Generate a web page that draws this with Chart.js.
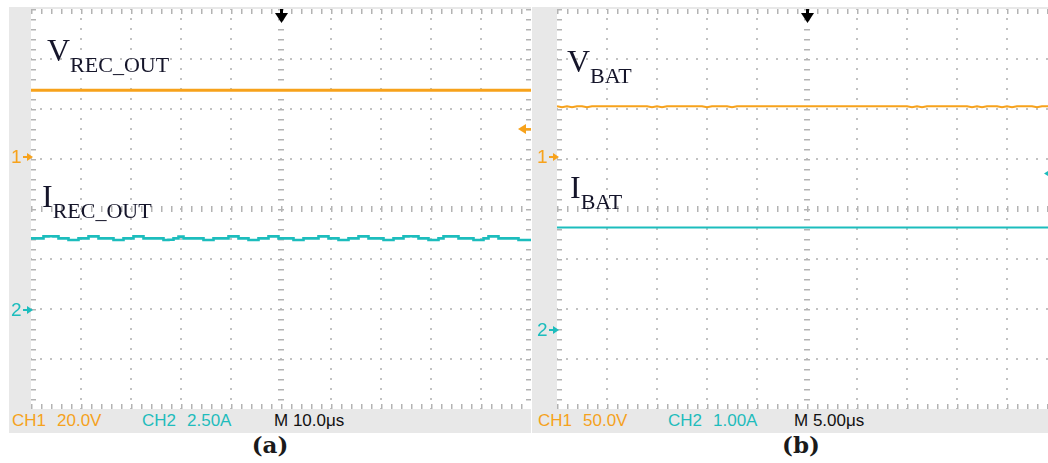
<!DOCTYPE html>
<html><head><meta charset="utf-8">
<script src="https://cdn.jsdelivr.net/npm/chart.js@4.4.1/dist/chart.umd.min.js"></script>
<style>
html,body{margin:0;padding:0;background:#fff;}
body{width:1048px;height:463px;position:relative;overflow:hidden;font-family:"Liberation Sans",Arial,sans-serif;}
.strip{position:absolute;background:#e8e8e8;}
canvas{position:absolute;background:#fff;}
.lbl{position:absolute;font-family:"Liberation Serif","Times New Roman",serif;font-size:32px;line-height:32px;color:#15152a;white-space:nowrap;}
.lbl sub{font-size:22px;line-height:0;vertical-align:-11px;}
.info{position:absolute;top:411px;font-size:17px;line-height:20px;white-space:nowrap;}
.cap{position:absolute;top:431px;width:100px;text-align:center;font-family:"DejaVu Serif",serif;font-weight:bold;font-size:23px;line-height:28px;color:#1a1a1a;}
.gnd{position:absolute;display:flex;align-items:center;font-size:19px;line-height:20px;height:20px;}
.gnd i{display:inline-block;width:4px;height:2px;background:currentColor;margin-left:1px;}
.gnd b{display:inline-block;width:0;height:0;border-left:6px solid currentColor;border-top:4px solid transparent;border-bottom:4px solid transparent;}
</style></head>
<body>
<div class="strip" style="left:9px;top:7px;width:522px;height:426px;"></div>
<div class="strip" style="left:532px;top:7px;width:520px;height:426px;"></div>
<canvas id="ca" width="500" height="400" style="left:31px;top:9px;width:500px;height:400px;"></canvas>
<canvas id="cb" width="500" height="400" style="left:557px;top:9px;width:500px;height:400px;"></canvas>

<div class="lbl" style="left:47px;top:34px;">V<sub>REC_OUT</sub></div>
<div class="lbl" style="left:42px;top:180px;">I<sub>REC_OUT</sub></div>
<div class="lbl" style="left:567px;top:45px;">V<sub>BAT</sub></div>
<div class="lbl" style="left:570px;top:171px;">I<sub>BAT</sub></div>

<div class="info" style="left:12px;color:#f5a21c;">CH1</div>
<div class="info" style="left:57px;color:#f5a21c;">20.0V</div>
<div class="info" style="left:142px;color:#1fbcbc;">CH2</div>
<div class="info" style="left:187px;color:#1fbcbc;">2.50A</div>
<div class="info" style="left:274px;color:#111;">M 10.0μs</div>
<div class="info" style="left:538px;color:#f5a21c;">CH1</div>
<div class="info" style="left:583px;color:#f5a21c;">50.0V</div>
<div class="info" style="left:668px;color:#1fbcbc;">CH2</div>
<div class="info" style="left:713px;color:#1fbcbc;">1.00A</div>
<div class="info" style="left:794px;color:#111;">M 5.00μs</div>

<div class="cap" style="left:220px;">(a)</div>
<div class="cap" style="left:751px;">(b)</div>

<script>
// ---------------- DATA ----------------
// Panel (a): rectifier output, time in microseconds
const timeA = [0,1,2,3,4,5,6,7,8,9,10,11,12,13,14,15,16,17,18,19,20,21,22,23,24,25,26,27,28,29,30,31,32,33,34,35,36,37,38,39,40,41,42,43,44,45,46,47,48,49,50,51,52,53,54,55,56,57,58,59,60,61,62,63,64,65,66,67,68,69,70,71,72,73,74,75,76,77,78,79,80,81,82,83,84,85,86,87,88,89,90,91,92,93,94,95,96,97,98,99,100];
const iRecOut = [3.58,3.58,3.58,3.68,3.69,3.68,3.58,3.58,3.50,3.50,3.58,3.58,3.68,3.68,3.58,3.58,3.58,3.50,3.50,3.58,3.58,3.68,3.68,3.58,3.58,3.58,3.58,3.50,3.51,3.58,3.67,3.58,3.58,3.58,3.58,3.50,3.50,3.58,3.58,3.58,3.68,3.68,3.58,3.58,3.50,3.50,3.58,3.58,3.68,3.68,3.58,3.58,3.58,3.50,3.50,3.58,3.58,3.58,3.68,3.68,3.58,3.58,3.50,3.50,3.58,3.58,3.68,3.68,3.58,3.58,3.58,3.50,3.50,3.58,3.58,3.68,3.69,3.68,3.58,3.58,3.50,3.50,3.58,3.68,3.68,3.68,3.58,3.58,3.58,3.50,3.50,3.58,3.68,3.68,3.58,3.58,3.58,3.58,3.50,3.50,3.50];
const timeA5 = [0,5,10,15,20,25,30,35,40,45,50,55,60,65,70,75,80,85,90,95,100];
const vRecOut = [26.8,26.8,26.8,26.8,26.8,26.8,26.8,26.8,26.8,26.8,26.8,26.8,26.8,26.8,26.8,26.8,26.8,26.8,26.8,26.8,26.8];

// Panel (b): battery, time in microseconds
const timeB = [0,0.5,1,1.5,2,2.5,3,3.5,4,4.5,5,5.5,6,6.5,7,7.5,8,8.5,9,9.5,10,10.5,11,11.5,12,12.5,13,13.5,14,14.5,15,15.5,16,16.5,17,17.5,18,18.5,19,19.5,20,20.5,21,21.5,22,22.5,23,23.5,24,24.5,25,25.5,26,26.5,27,27.5,28,28.5,29,29.5,30,30.5,31,31.5,32,32.5,33,33.5,34,34.5,35,35.5,36,36.5,37,37.5,38,38.5,39,39.5,40,40.5,41,41.5,42,42.5,43,43.5,44,44.5,45,45.5,46,46.5,47,47.5,48,48.5,49,49.5,50];
const vBat = [50.5,49.4,50.5,49.4,50.5,50.5,49.4,50.5,50.5,50.5,50.5,50.5,50.5,50.5,50.5,50.5,50.5,50.5,50.5,49.4,50.5,49.4,50.5,50.5,50.5,50.5,50.5,50.5,50.5,50.5,49.4,50.5,50.5,50.5,50.5,49.4,50.5,50.5,50.5,50.5,50.5,50.5,50.5,50.5,50.5,50.5,50.5,50.5,50.5,50.5,50.5,50.5,50.5,50.5,50.5,50.5,50.5,50.5,50.5,50.5,50.5,50.5,50.5,50.5,50.5,50.5,50.5,50.5,50.5,50.5,50.5,49.4,50.5,49.4,50.5,50.5,50.5,50.5,50.5,50.5,50.5,50.5,50.5,49.4,50.5,49.4,50.5,50.5,50.5,49.4,50.5,49.4,50.5,50.5,50.5,50.5,49.4,50.5,50.5,50.5,50.5];
const timeB5 = [0,5,10,15,20,25,30,35,40,45,50];
const iBat = [2.05,2.05,2.05,2.05,2.05,2.05,2.05,2.05,2.05,2.05,2.05];

// ---------------- SCOPE SETTINGS ----------------
const ORANGE = '#f7a21b', CYAN = '#1cbdbd';
const setA = {usPerDiv:10, ch1PerDiv:20, ch2PerDiv:2.5, ch1Gnd:1.034, ch2Gnd:-2.02, trigCh:'y1', trigLevel:11.3, trigColor:ORANGE};
const setB = {usPerDiv:5, ch1PerDiv:50, ch2PerDiv:1.0, ch1Gnd:1.046, ch2Gnd:-2.42, trigCh:'y2', trigLevel:3.13, trigColor:CYAN};

const zip = (xs, ys) => xs.map((x, i) => ({x, y: ys[i]}));

const graticule = {
  id: 'graticule',
  beforeDatasetsDraw(chart) {
    const {ctx, chartArea: a} = chart;
    const nx = 10, ny = 8, sub = 5;
    const dx = (a.right - a.left) / nx, dy = (a.bottom - a.top) / ny;
    ctx.save();
    ctx.fillStyle = '#c2c2c2';
    for (let i = 1; i < nx; i++) {
      if (i === 5) continue;
      const x = Math.round(a.left + i * dx);
      for (let j = 0; j <= ny * sub; j++) ctx.fillRect(x - 1, Math.round(a.top + j * dy / sub) - 1, 2, 2);
    }
    for (let j = 1; j < ny; j++) {
      if (j === 4) continue;
      const y = Math.round(a.top + j * dy);
      for (let i = 0; i <= nx * sub; i++) ctx.fillRect(Math.round(a.left + i * dx / sub) - 1, y - 1, 2, 2);
    }
    ctx.fillStyle = '#b3b3b3';
    const cx = Math.round(a.left + 5 * dx), cy = Math.round(a.top + 4 * dy);
    for (let j = 0; j <= ny * sub; j++) {
      const y = Math.round(a.top + j * dy / sub);
      ctx.fillRect(cx - 3, y, 6, 1.5);
      ctx.fillRect(a.left, y, 5, 1.5);
      ctx.fillRect(a.right - 5, y, 5, 1.5);
    }
    for (let i = 0; i <= nx * sub; i++) {
      const x = Math.round(a.left + i * dx / sub);
      ctx.fillRect(x, cy - 3, 1.5, 6);
      ctx.fillRect(x, a.top, 1.5, 5);
      ctx.fillRect(x, a.bottom - 5, 1.5, 5);
    }
    ctx.restore();
  },
  afterDatasetsDraw(chart, args, o) {
    const {ctx, chartArea: a, scales} = chart;
    ctx.save();
    const cx = Math.round((a.left + a.right) / 2);
    ctx.fillStyle = '#000';
    ctx.fillRect(cx - 1, a.top - 1, 3, 6);
    ctx.beginPath();
    ctx.moveTo(cx - 6, a.top + 4); ctx.lineTo(cx + 7, a.top + 4); ctx.lineTo(cx + 0.5, a.top + 14); ctx.closePath();
    ctx.fill();
    const ty = scales[o.trigCh].getPixelForValue(o.trigLevel);
    const tip = a.right - 13;
    ctx.fillStyle = o.trigColor;
    ctx.beginPath();
    ctx.moveTo(tip, ty); ctx.lineTo(tip + 8, ty - 5); ctx.lineTo(tip + 8, ty + 5); ctx.closePath();
    ctx.fill();
    ctx.fillRect(tip + 6, ty - 1, a.right - tip - 6, 2.5);
    ctx.restore();
  }
};

function makeScope(id, s, dsets) {
  return new Chart(document.getElementById(id), {
    type: 'line',
    data: {datasets: dsets},
    options: {
      responsive: false, animation: false, devicePixelRatio: 1,
      layout: {padding: 0},
      plugins: {legend: {display: false}, tooltip: {enabled: false}, graticule: s},
      elements: {point: {radius: 0}, line: {tension: 0}},
      scales: {
        x: {type: 'linear', display: false, min: 0, max: 10 * s.usPerDiv},
        y1: {type: 'linear', display: false, min: (-4 - s.ch1Gnd) * s.ch1PerDiv, max: (4 - s.ch1Gnd) * s.ch1PerDiv},
        y2: {type: 'linear', display: false, min: (-4 - s.ch2Gnd) * s.ch2PerDiv, max: (4 - s.ch2Gnd) * s.ch2PerDiv}
      }
    },
    plugins: [graticule]
  });
}

const chartA = makeScope('ca', setA, [
  {label: 'V_REC_OUT', data: zip(timeA5, vRecOut), yAxisID: 'y1', borderColor: ORANGE, borderWidth: 3},
  {label: 'I_REC_OUT', data: zip(timeA, iRecOut), yAxisID: 'y2', borderColor: CYAN, borderWidth: 2.6, stepped: 'middle'}
]);
const chartB = makeScope('cb', setB, [
  {label: 'V_BAT', data: zip(timeB, vBat), yAxisID: 'y1', borderColor: ORANGE, borderWidth: 2},
  {label: 'I_BAT', data: zip(timeB5, iBat), yAxisID: 'y2', borderColor: CYAN, borderWidth: 2}
]);

function marker(chart, canvasTop, left, axis, text, color) {
  const y = canvasTop + chart.scales[axis].getPixelForValue(0);
  const d = document.createElement('div');
  d.className = 'gnd';
  d.style.left = left + 'px';
  d.style.top = Math.round(y - 10) + 'px';
  d.style.color = color;
  d.innerHTML = '<span>' + text + '</span><i></i><b></b>';
  document.body.appendChild(d);
}
marker(chartA, 9, 11, 'y1', '1', ORANGE);
marker(chartA, 9, 11, 'y2', '2', CYAN);
marker(chartB, 9, 537, 'y1', '1', ORANGE);
marker(chartB, 9, 537, 'y2', '2', CYAN);
</script>
</body></html>
